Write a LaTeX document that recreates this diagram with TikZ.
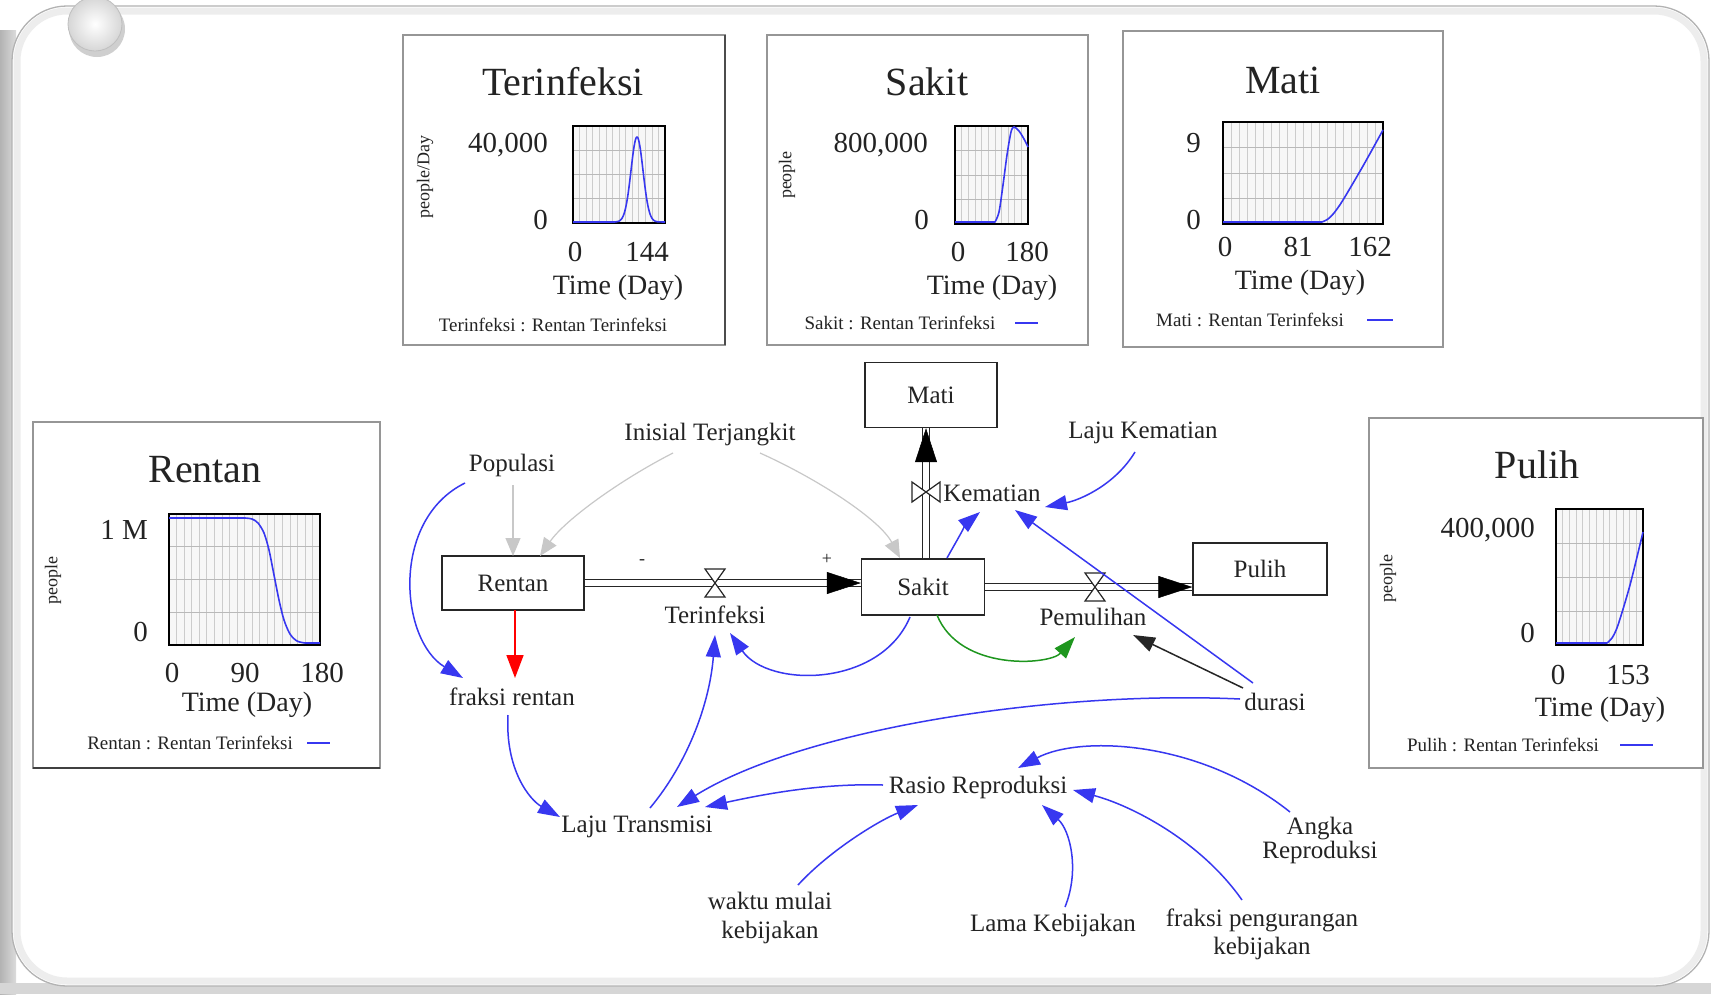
\documentclass[tikz,border=0pt]{standalone}
\usepackage{fontspec}
\setmainfont{Liberation Serif}
\usetikzlibrary{arrows.meta}
\definecolor{lnblue}{RGB}{55,55,240}
\definecolor{lngray}{RGB}{200,200,200}
\definecolor{lngreen}{RGB}{30,150,30}
\definecolor{txt}{RGB}{35,35,35}
\definecolor{panelgray}{RGB}{150,150,150}
\newcommand{\myfs}[1]{\fontsize{#1}{#1}\selectfont}
\newcommand{\mychartframe}[5]{%
  \fill[gray!6] (#1,#2) rectangle (#3,#4);
  \foreach \i in {1,...,#5} \draw[gridv] ({#1+\i*(#3-#1)/(#5+1)},#2) -- ({#1+\i*(#3-#1)/(#5+1)},#4);
  \foreach \j in {1,2,3} \draw[gridh] (#1,{#2+\j*(#4-#2)/4}) -- (#3,{#2+\j*(#4-#2)/4});
  \draw[line width=2.6pt, black] (#1,#2) rectangle (#3,#4);
}
\begin{document}
\begin{tikzpicture}[x=1pt,y=-1pt,
  gridv/.style={draw=gray!40, line width=0.6pt},
  gridh/.style={draw=gray!55, line width=0.8pt},
  chartbox/.style={draw=panelgray, line width=1.5pt, fill=white},
  ctitle/.style={font=\myfs{40}, text=txt, inner sep=0pt},
  ctick/.style={font=\myfs{29}, text=txt, inner sep=0pt},
  caxis/.style={font=\myfs{28}, text=txt, inner sep=0pt},
  clegend/.style={font=\myfs{19}, text=txt, inner sep=0pt},
  cunit/.style={font=\myfs{18}, text=txt, inner sep=0pt, rotate=90},
  plotcurve/.style={draw=lnblue, line width=1.6pt},
  legline/.style={draw=lnblue, line width=1.6pt},
  stockbox/.style={draw=black!85, line width=1.4pt, fill=white, font=\myfs{25}, text=txt, inner sep=0pt},
  varnode/.style={font=\myfs{25}, text=txt, inner sep=1pt, align=center},
  bluearr/.style={draw=lnblue, line width=1.5pt, -{Triangle[length=22pt,width=15pt]}},
  grayarr/.style={draw=lngray, line width=1.2pt, -{Triangle[length=18pt,width=15pt]}},
  redarr/.style={draw=red, line width=1.6pt, -{Triangle[length=23pt,width=17pt]}},
  greenarr/.style={draw=lngreen, line width=1.5pt, -{Triangle[length=22pt,width=15pt]}},
  blackarr/.style={draw=black!85, line width=1.5pt, -{Triangle[length=22pt,width=15pt]}},
  pipe/.style={draw=black!85, line width=1.3pt, double=white, double distance=5.5pt},
  pipetip/.style={draw=white, line width=0.5pt, -{Triangle[length=34pt,width=22pt,color=black,fill=black]}},
  valve/.style={draw=black!85, line width=1.2pt, fill=white},
  signnode/.style={font=\myfs{18}, text=txt, inner sep=0pt}
]
\useasboundingbox (0,0) rectangle (1711,994);
% ---------- background ----------
\fill[white] (0,0) rectangle (1711,994);
\shade[left color=gray!60, right color=gray!28] (0,30) rectangle (16,994);
\fill[gray!32] (0,983) rectangle (1711,994);
\filldraw[fill=white, draw=gray!60, line width=1.3pt, rounded corners=55pt] (12,6) rectangle (1709,986);
\draw[gray!14, line width=7pt, rounded corners=50pt] (17,11) rectangle (1704,981);
\fill[gray!38] (97,29) circle[radius=28pt];
\shade[inner color=white, outer color=gray!32] (95,24) circle[radius=27pt];
\draw[gray!50, line width=0.8pt] (95,24) circle[radius=27pt];

% ---------- Terinfeksi chart ----------
\draw[chartbox] (403,35) rectangle (725,345);
\draw[black!70, line width=2pt] (725,35) -- (725,345);
\node[ctitle] (ctT) at (563,82) {Terinfeksi};
\mychartframe{573}{126}{665}{223}{13}
\draw[plotcurve] (573,222) -- (615,222) plot[domain=615:659, samples=70, smooth] (\x,{222-85*exp(-((\x-637)^2)/72)}) -- (665,222);
\node[ctick, anchor=east] (cTy1) at (548,145) {40,000};
\node[ctick, anchor=east] (cTy0) at (548,220) {0};
\node[cunit] (cTu) at (425,177) {people/Day};
\node[ctick] (cTx0) at (575,252) {0};
\node[ctick] (cTx1) at (647,252) {144};
\node[caxis] (cTx) at (618,288) {Time (Day)};
\node[clegend] (cTl) at (553,325) {Terinfeksi : Rentan Terinfeksi};

% ---------- Sakit chart ----------
\draw[chartbox] (767,35) rectangle (1088,345);
\node[ctitle] (ctS) at (927,82) {Sakit};
\mychartframe{955}{126}{1028}{224}{10}
\draw[plotcurve] (955,222) -- (995,222) plot[smooth] coordinates {(995,222) (999,212) (1003,185) (1007,155) (1011,132) (1014,127) (1019,131) (1024,139) (1028,147)};
\node[ctick, anchor=east] (cSy1) at (928,145) {800,000};
\node[ctick, anchor=east] (cSy0) at (929,220) {0};
\node[cunit] (cSu) at (787,175) {people};
\node[ctick] (cSx0) at (958,252) {0};
\node[ctick] (cSx1) at (1027,252) {180};
\node[caxis] (cSx) at (992,288) {Time (Day)};
\node[clegend] (cSl) at (900,323) {Sakit : Rentan Terinfeksi};
\draw[legline] (1015,323) -- (1038,323);

% ---------- Mati chart ----------
\draw[chartbox] (1123,31) rectangle (1443,347);
\node[ctitle] (ctM) at (1283,80) {Mati};
\mychartframe{1223}{122}{1383}{224}{19}
\draw[plotcurve] (1223,222) -- (1322,222) plot[smooth] coordinates {(1322,222) (1328,219) (1334,213) (1343,200) (1363,166) (1383,130)};
\node[ctick, anchor=east] (cMy1) at (1201,143) {9};
\node[ctick, anchor=east] (cMy0) at (1201,220) {0};
\node[ctick] (cMx0) at (1225,247) {0};
\node[ctick] (cMx1) at (1298,247) {81};
\node[ctick] (cMx2) at (1370,247) {162};
\node[caxis] (cMx) at (1300,283) {Time (Day)};
\node[clegend] (cMl) at (1250,320) {Mati : Rentan Terinfeksi};
\draw[legline] (1367,320) -- (1393,320);

% ---------- Rentan chart ----------
\draw[chartbox] (33,422) rectangle (380,768);
\draw[black!75, line width=2.2pt] (33,768) -- (380,768);
\node[ctitle] (ctR) at (205,470) {Rentan};
\mychartframe{169}{514}{320}{645}{19}
\draw[plotcurve] (169,518) -- (245,518) plot[smooth] coordinates {(245,518) (252,519) (258,523) (264,533) (269,550) (274,575) (279,600) (284,620) (290,634) (297,641) (305,643)} -- (320,643);
\node[ctick, anchor=east] (cRy1) at (148,530) {1 M};
\node[ctick, anchor=east] (cRy0) at (148,632) {0};
\node[cunit] (cRu) at (53,580) {people};
\node[ctick] (cRx0) at (172,673) {0};
\node[ctick] (cRx1) at (245,673) {90};
\node[ctick] (cRx2) at (322,673) {180};
\node[caxis] (cRx) at (247,705) {Time (Day)};
\node[clegend] (cRl) at (190,743) {Rentan : Rentan Terinfeksi};
\draw[legline] (307,743) -- (330,743);

% ---------- Pulih chart ----------
\draw[chartbox] (1369,418) rectangle (1703,768);
\node[ctitle] (ctP) at (1537,465) {Pulih};
\mychartframe{1556}{509}{1643}{645}{12}
\draw[plotcurve] (1556,643) -- (1607,643) plot[smooth] coordinates {(1607,643) (1612,638) (1618,625) (1630,585) (1643,532)};
\node[ctick, anchor=east] (cPy1) at (1535,530) {400,000};
\node[ctick, anchor=east] (cPy0) at (1535,633) {0};
\node[cunit] (cPu) at (1388,578) {people};
\node[ctick] (cPx0) at (1558,675) {0};
\node[ctick] (cPx1) at (1628,675) {153};
\node[caxis] (cPx) at (1600,710) {Time (Day)};
\node[clegend] (cPl) at (1503,745) {Pulih : Rentan Terinfeksi};
\draw[legline] (1620,745) -- (1653,745);

% ---------- stock-flow diagram: nodes ----------
\node[stockbox, minimum width=142pt, minimum height=54pt] (rentan) at (513,583) {Rentan};
\node[stockbox, minimum width=123pt, minimum height=56pt] (sakit) at (923,587) {Sakit};
\node[stockbox, minimum width=132pt, minimum height=65pt] (mati) at (931,395) {Mati};
\node[stockbox, minimum width=134pt, minimum height=52pt] (pulih) at (1260,569) {Pulih};

\node[varnode] (populasi) at (512,465) {Populasi};
\node[varnode] (inisial) at (710,435) {Inisial Terjangkit};
\node[varnode] (terinf) at (715,615) {Terinfeksi};
\node[varnode] (fraksi) at (512,697) {fraksi rentan};
\node[varnode] (kematian) at (992,493) {Kematian};
\node[varnode] (lajukem) at (1143,433) {Laju Kematian};
\node[varnode] (pemulihan) at (1093,617) {Pemulihan};
\node[varnode] (durasi) at (1275,702) {durasi};
\node[varnode] (lajutr) at (637,827) {Laju Transmisi};
\node[varnode] (rasio) at (978,787) {Rasio Reproduksi};
\node[varnode, font=\fontsize{25}{29}\selectfont] (waktu) at (770,918) {waktu mulai\\kebijakan};
\node[varnode] (lama) at (1053,925) {Lama Kebijakan};
\node[varnode, font=\fontsize{25}{28}\selectfont] (fraksipeng) at (1262,934) {fraksi pengurangan\\kebijakan};
\node[varnode, font=\fontsize{25}{24}\selectfont] (angka) at (1320,840) {Angka\\Reproduksi};
\node[signnode] (minus) at (642,562) {-};
\node[signnode] (plus) at (827,559) {+};

% ---------- pipes (flows) ----------
\draw[pipe] (rentan.east) -- (rentan.east -| sakit.west);
\draw[pipetip] ([xshift=-34pt]rentan.east -| sakit.west) -- (rentan.east -| sakit.west);
\draw[pipe] (sakit.east) -- (sakit.east -| pulih.west);
\draw[pipetip] ([xshift=-34pt]sakit.east -| pulih.west) -- (sakit.east -| pulih.west);
\draw[pipe] ([xshift=3pt]sakit.north) -- ([xshift=3pt]sakit.north |- mati.south);
\draw[pipetip] ([xshift=3pt,yshift=-36pt]sakit.north |- mati.south) -- ([xshift=3pt]sakit.north |- mati.south);

\coordinate (vT) at (715,583);
\coordinate (vP) at (1095,587);
\coordinate (vK) at (926,492);
\draw[valve, shift={(vT)}] (-10,-14) -- (10,-14) -- (-10,14) -- (10,14) -- cycle;
\draw[valve, shift={(vP)}] (-10,-14) -- (10,-14) -- (-10,14) -- (10,14) -- cycle;
\draw[valve, shift={(vK)}] (-14,-10) -- (-14,10) -- (14,-10) -- (14,10) -- cycle;

% ---------- connectors ----------
\draw[grayarr] ([shift={(1,20)}]populasi.center) -- ([shift={(0,-27)}]rentan.center);
\draw[grayarr] ([shift={(-37,18)}]inisial.center) .. controls (620,480) and (565,520) .. ([shift={(27,-27)}]rentan.center);
\draw[grayarr] ([shift={(50,18)}]inisial.center) .. controls (820,480) and (880,520) .. ([shift={(-23,-29)}]sakit.center);
\draw[redarr] ([shift={(2,27)}]rentan.center) -- ([shift={(3,-19)}]fraksi.center);

\draw[bluearr] ([shift={(-47,18)}]populasi.center) .. controls (390,520) and (400,640) .. ([shift={(-49,-19)}]fraksi.center);
\draw[bluearr] ([shift={(-4,18)}]fraksi.center) .. controls (505,770) and (530,800) .. ([shift={(-77,-10)}]lajutr.center);
\draw[bluearr] ([shift={(13,-19)}]lajutr.center) .. controls (690,760) and (710,700) .. ([shift={(0,20)}]terinf.center);
\draw[bluearr] ([shift={(-13,30)}]sakit.center) .. controls (880,688) and (768,688) .. ([shift={(15,18)}]terinf.center);
\draw[bluearr] ([shift={(24,-29)}]sakit.center) .. controls (957,540) and (968,522) .. ([shift={(-12,19)}]kematian.center);
\draw[bluearr] ([shift={(-8,19)}]lajukem.center) .. controls (1115,485) and (1080,500) .. ([shift={(53,14)}]kematian.center);
\draw[bluearr] ([shift={(-22,-19)}]durasi.center) -- ([shift={(23,17)}]kematian.center);
\draw[greenarr] ([shift={(14,28)}]sakit.center) .. controls (960,672) and (1050,665) .. ([shift={(-18,20)}]pemulihan.center);
\draw[blackarr] ([shift={(-32,-14)}]durasi.center) -- ([shift={(40,18)}]pemulihan.center);
\draw[bluearr] ([shift={(-35,-3)}]durasi.center) .. controls (1050,690) and (800,730) .. ([shift={(40,-20)}]lajutr.center);
\draw[bluearr] ([shift={(-95,-2)}]rasio.center) .. controls (820,783) and (760,795) .. ([shift={(68,-20)}]lajutr.center);
\draw[bluearr] ([shift={(28,-33)}]waktu.center) .. controls (830,850) and (880,820) .. ([shift={(-60,18)}]rasio.center);
\draw[bluearr] ([shift={(12,-18)}]lama.center) .. controls (1080,870) and (1070,830) .. ([shift={(64,18)}]rasio.center);
\draw[bluearr] ([shift={(-20,-34)}]fraksipeng.center) .. controls (1200,840) and (1130,805) .. ([shift={(95,3)}]rasio.center);
\draw[bluearr] ([shift={(-30,-28)}]angka.center) .. controls (1200,740) and (1080,735) .. ([shift={(40,-19)}]rasio.center);
\end{tikzpicture}
\end{document}
